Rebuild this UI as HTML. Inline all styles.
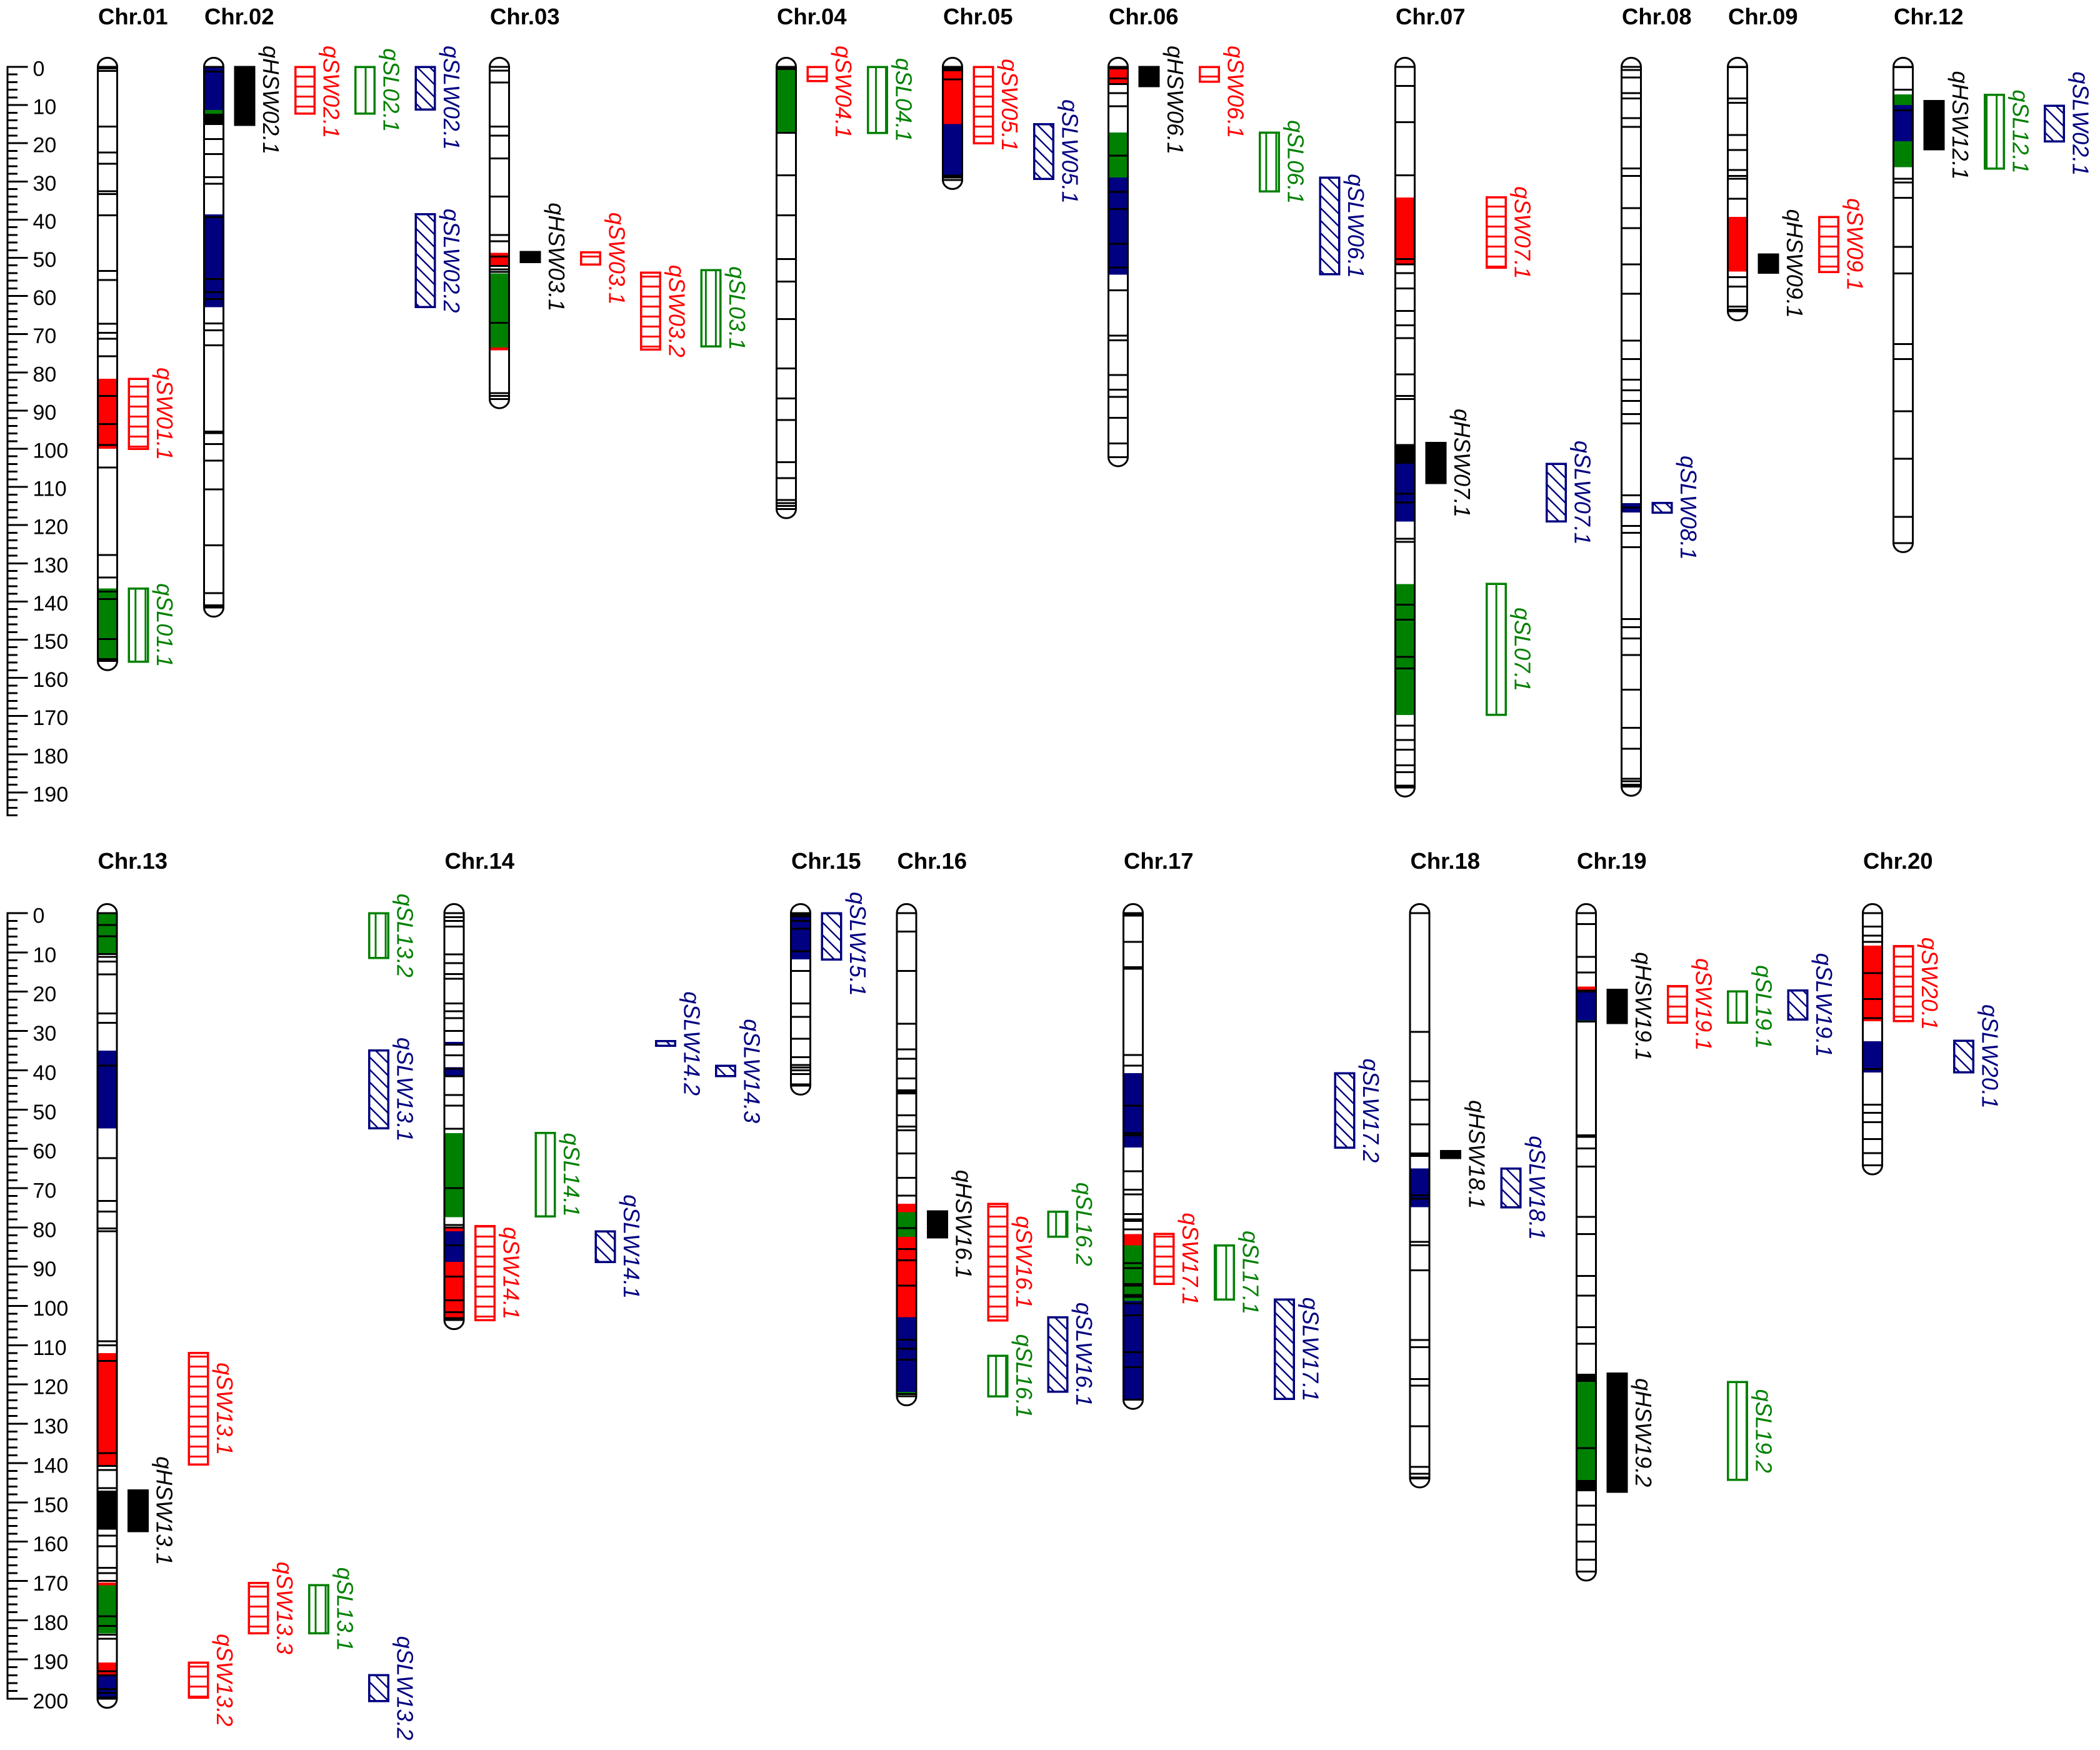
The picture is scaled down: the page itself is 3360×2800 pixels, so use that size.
<!DOCTYPE html>
<html lang="en">
<head>
<meta charset="utf-8">
<title>QTL linkage map</title>
<style>
  html, body { margin: 0; padding: 0; background: #fff; }
  svg { display: block; }
  text { font-family: "Liberation Sans", Arial, sans-serif; }
  .axis-label { font-size: 34px; fill: #000; }
  .chrom-title { font-size: 36.5px; font-weight: bold; fill: #000; }
  .qtl-label { font-size: 36px; font-style: italic; }
</style>
</head>
<body>
<svg id="chart" xmlns="http://www.w3.org/2000/svg" width="3360" height="2800" viewBox="0 0 3360 2800">
  <defs>
    <pattern id="pat-SW" patternUnits="userSpaceOnUse" x="0" y="9" width="40" height="16">
      <rect x="0" y="0" width="40" height="2.8" fill="#ff0000" shape-rendering="crispEdges"></rect>
    </pattern>
    <pattern id="pat-SL" patternUnits="userSpaceOnUse" x="7.2" y="0" width="16.01" height="40">
      <rect x="0" y="0" width="2.8" height="40" fill="#008000" shape-rendering="crispEdges"></rect>
    </pattern>
    <pattern id="pat-SLW" patternUnits="userSpaceOnUse" x="0" y="0" width="20" height="20">
      <path d="M-2,-2 L22,22 M-2,18 L2,22 M18,-2 L22,2" stroke="#000080" stroke-width="2.8" fill="none" shape-rendering="crispEdges"></path>
    </pattern>
  </defs>
  <rect x="0" y="0" width="3360" height="2800" fill="#ffffff"></rect>
</svg>
<script>
// ---- Data: chromosomes (cM) ----
const chromNames = ["Chr.01","Chr.02","Chr.03","Chr.04","Chr.05","Chr.06","Chr.07","Chr.08","Chr.09","Chr.12",
                    "Chr.13","Chr.14","Chr.15","Chr.16","Chr.17","Chr.18","Chr.19","Chr.20"];
const chromLengths = [155.6,141.6,87,115.8,29.6,102.2,188.7,188.5,64,124.7,
                      200,103.6,43.9,123,123.9,143.9,167.6,64.2];
const chromPanels = [0,0,0,0,0,0,0,0,0,0,1,1,1,1,1,1,1,1];

const topTickLabels = [0,10,20,30,40,50,60,70,80,90,100,110,120,130,140,150,160,170,180,190];
const bottomTickLabels = [0,10,20,30,40,50,60,70,80,90,100,110,120,130,140,150,160,170,180,190,200];

// ---- Data: marker positions per chromosome (cM) ----
const markersChr01 = [0,0.4,1.1,15.6,22.4,25.4,32.6,33.3,38.9,53.4,55.8,67.3,69.6,71.2,75.8,86.2,93.5,99,104.9,127.8,133.7,137.4,139.4,149.8,155.1,155.4,155.6];
const markersChr02 = [0,1.2,12.6,13.2,13.8,14.4,15,18.9,22.8,28.9,30.6,39.4,55.6,59,60.8,67.2,69,72.9,95.5,95.9,98.8,103.1,110.6,125.3,137.8,141,141.3,141.6];
const markersChr03 = [0,1,4.1,15.6,18,24,34,44,45.7,49.7,52.1,53,53.7,67,85.4,86.2,87];
const markersChr04 = [0,0.3,0.6,17.3,28.4,38.9,50.3,56.2,66,79,86.8,92.5,103.5,107.7,113.4,114.2,115,115.8];
const markersChr05 = [0,0.4,0.9,3.3,28.5,29,29.6];
const markersChr06 = [0,0.4,3,4.5,6.9,10.3,23.2,32.7,37.2,46.3,52.5,58.5,70.4,71.6,80.7,84.5,86.4,91.9,98.6,102.2];
const markersChr07 = [0,5,14.5,28.4,50.3,51.7,54,58,63.9,67.7,71,80.5,86.2,87,111.8,114.1,123.6,124.4,140.8,144.8,154.5,157.5,172.5,176.3,178.8,182.9,184.7,188.2,188.7];
const markersChr08 = [0,0.8,2.8,6.9,8.3,13.4,15.7,26.6,28.6,37,42.2,51.7,59.4,71.7,76.5,81.9,84.7,87.5,90.9,93.4,112.2,115.4,120.2,122,125.8,144.6,146.7,149.7,154,163.1,173.1,178.6,186.4,187.1,188,188.5];
const markersChr09 = [0,0.1,8.3,9.4,17.8,21.8,27,28.6,29.3,34.5,55.1,57.5,62.8,63.6,64];
const markersChr12 = [0,0.1,6,11.4,29.3,30.3,34.3,47.1,54.1,72.6,76.5,90.2,102.6,117.8,124.7];
const markersChr13 = [0,3,5.9,10.4,11.1,12.3,15.6,25.5,27.9,38.8,62.4,73.3,76,80.3,81,109,110,114,137.5,140.7,141.8,146.4,158.5,161.2,166.7,168,170,179,181.5,183.7,184.7,193,194,197.5,198.5,199.7,200];
const markersChr14 = [0,1,2,3.4,10.5,12.7,15.5,16.7,23,25,26.7,30,33.5,36.2,39.6,41.5,46.3,49,54.9,70,79.4,80,84.6,92.5,98.6,101.6,103.1,103.6];
const markersChr15 = [0,0.4,0.8,2,4,9.7,14.7,23,26.4,32,36.7,38.7,39.3,40,41,43.6,43.9];
const markersChr16 = [0,4.7,14.7,28.2,34.7,37.1,42.1,45.1,45.5,45.9,51.5,54.3,55.3,61.2,67.4,71.9,80.2,85.5,88.4,94.8,108.6,110.9,113.7,122.4,123];
const markersChr17 = [0,0.3,0.6,7.3,13.8,14.2,36.1,38.8,49,56,56.6,65.7,70.4,71.6,76.6,78,78.4,80.5,89.1,90.4,94.4,94.8,97.2,97.7,99.4,102.4,111.8,115.6,123.9];
const markersChr18 = [0,30.2,42.8,47.5,53.8,61.2,61.5,61.8,71.8,72.7,83.7,84.6,90.9,108.7,110.5,118.6,120.3,130.6,141,142.7,143.7,143.9];
const markersChr19 = [0,2.8,11.1,15.1,19.7,20,27.6,56.6,57,59.9,64.5,77.3,81.7,92.4,97.4,105.4,109.6,136.2,150.8,155.7,160,164.6,167.6];
const markersChr20 = [0,3.4,5.7,7.3,15.3,21.9,26.7,39.7,48.8,50.8,53.2,57.5,61.1,64.2];

// ---- Data: coloured segments per chromosome [trait, start cM, end cM] ----
const bandsChr01 = [["SW",81.7,100],["SL",136.6,155.6]];
const bandsChr02 = [["SLW",0,11.3],["SL",11.3,12.3],["HSW",12.3,15.2],["SLW",38.6,62.9]];
const bandsChr03 = [["SW",48.7,52.1],["SL",54.1,73.5],["SW",73.5,74.2]];
const bandsChr04 = [["SL",0.7,17.2]];
const bandsChr05 = [["SW",0.5,15],["SLW",15,28.3]];
const bandsChr06 = [["SW",0.1,4.5],["SL",17.2,29],["SLW",29,54.4]];
const bandsChr07 = [["SW",34.2,51.7],["HSW",98.8,103.9],["SLW",103.9,119.1],["SL",135.4,169.7]];
const bandsChr08 = [["SLW",114.2,116.7]];
const bandsChr09 = [["SW",39.3,53.6]];
const bandsChr12 = [["SL",7.2,10],["SLW",10,19.5],["SL",19.5,26.3]];
const bandsChr13 = [["SL",0,10.4],["SLW",35,54.8],["SW",112,140.6],["HSW",147,157],["SW",170.4,171.1],["SL",171.1,183.4],["SW",190.8,193.8],["SLW",193.8,200]];
const bandsChr14 = [["SLW",32.8,33.7],["SLW",39.2,41.6],["SL",56,77.4],["SW",79.9,81],["SLW",81,88.8],["SW",88.8,103.1]];
const bandsChr15 = [["SLW",0.7,11.8]];
const bandsChr16 = [["SW",74,76.1],["SL",76.1,82.4],["SW",82.4,102.9],["SLW",102.9,121.9],["SL",121.9,122.2]];
const bandsChr17 = [["SLW",40.7,59.7],["SW",81.7,84.6],["SL",84.6,98.7],["SLW",98.7,123.7]];
const bandsChr18 = [["SLW",65,74.9]];
const bandsChr19 = [["SW",18.7,19.7],["SLW",20,27.3],["SL",27.3,27.6],["HSW",117.3,119.3],["SL",119.3,144.3],["HSW",144.3,147.2]];
const bandsChr20 = [["SW",8.3,27.5],["SLW",32.6,40.6]];

// ---- Data: QTL intervals ----
const qtlNames = ["qSW01.1","qSL01.1",
  "qHSW02.1","qSW02.1","qSL02.1","qSLW02.1","qSLW02.2",
  "qHSW03.1","qSW03.1","qSW03.2","qSL03.1",
  "qSW04.1","qSL04.1",
  "qSW05.1","qSLW05.1",
  "qHSW06.1","qSW06.1","qSL06.1","qSLW06.1",
  "qHSW07.1","qSW07.1","qSL07.1","qSLW07.1",
  "qSLW08.1",
  "qHSW09.1","qSW09.1",
  "qHSW12.1","qSL12.1","qSLW02.1",
  "qHSW13.1","qSW13.1","qSW13.2","qSW13.3","qSL13.1","qSL13.2","qSLW13.1","qSLW13.2",
  "qSW14.1","qSL14.1","qSLW14.1","qSLW14.2","qSLW14.3",
  "qSLW15.1",
  "qHSW16.1","qSW16.1","qSL16.1","qSL16.2","qSLW16.1",
  "qSW17.1","qSL17.1","qSLW17.1","qSLW17.2",
  "qHSW18.1","qSLW18.1",
  "qHSW19.1","qHSW19.2","qSW19.1","qSL19.1","qSL19.2","qSLW19.1",
  "qSW20.1","qSLW20.1"];
const qtlTraits = ["SW","SL",
  "HSW","SW","SL","SLW","SLW",
  "HSW","SW","SW","SL",
  "SW","SL",
  "SW","SLW",
  "HSW","SW","SL","SLW",
  "HSW","SW","SL","SLW",
  "SLW",
  "HSW","SW",
  "HSW","SL","SLW",
  "HSW","SW","SW","SW","SL","SL","SLW","SLW",
  "SW","SL","SLW","SLW","SLW",
  "SLW",
  "HSW","SW","SL","SL","SLW",
  "SW","SL","SLW","SLW",
  "HSW","SLW",
  "HSW","HSW","SW","SL","SL","SLW",
  "SW","SLW"];
const qtlChrom = [0,0, 1,1,1,1,1, 2,2,2,2, 3,3, 4,4, 5,5,5,5, 6,6,6,6, 7, 8,8, 9,9,9,
  10,10,10,10,10,10,10,10, 11,11,11,11,11, 12, 13,13,13,13,13, 14,14,14,14, 15,15, 16,16,16,16,16,16, 17,17];
const qtlStart = [81.7,136.6,
  0,0,0,0,38.6,
  48.5,48.6,53.9,53.2,
  0,0,
  0,15,
  0,0,17.2,29,
  98.5,34.2,135.4,104,
  114.2,
  49.1,39.3,
  9,7.3,10.2,
  147,112,190.8,170.5,171.1,0,35,194,
  79.7,56,81,32.6,38.9,
  0,
  75.9,74,112.7,76,102.9,
  81.7,84.6,98.4,40.8,
  60.6,65,
  19.5,117.2,18.6,19.9,119.4,19.7,
  8.4,32.5];
const qtlEnd = [100,155.8,
  15.2,12.2,12.2,11.2,62.9,
  51.1,51.8,74,73.2,
  3.7,17.3,
  20,29.3,
  5,3.9,32.6,54.3,
  109,52.6,169.7,119,
  116.7,
  53.9,53.7,
  21.6,26.6,19.5,
  157.3,140.4,199.7,183.3,183.3,11.4,54.8,200.6,
  103.6,77.2,88.8,33.8,41.5,
  11.8,
  82.5,103.7,123,82.4,121.8,
  94.4,98.4,123.7,59.7,
  62.3,74.9,
  28,147.3,27.9,27.9,144.3,27.1,
  27.5,40.5];

// ---- Layout (not data) ----
const layoutChromLeft = [155,325,782,1241,1507,1772,2231,2593,2763,3028,154.5,709.5,1264,1433.5,1796,2254.5,2521,2979];
const layoutQtlColumn = [0,0, 0,1,2,3,3, 0,1,2,3, 0,1, 0,1, 0,1,2,3, 0,1,1,2, 0, 0,1, 0,1,2,
  0,1,1,2,3,4,4,4, 0,1,2,3,4, 0, 0,1,1,2,2, 0,1,2,3, 0,1, 0,0,1,2,2,3, 0,1];
const CHROM_W = 34;
const QTL_W = 34;
const COLUMN_OFFSET = 49.5;
const COLUMN_STEP = 96.3;
const BOX_STROKE = 3.5;

const allMarkers = [markersChr01,markersChr02,markersChr03,markersChr04,markersChr05,markersChr06,markersChr07,markersChr08,markersChr09,markersChr12,markersChr13,markersChr14,markersChr15,markersChr16,markersChr17,markersChr18,markersChr19,markersChr20];
const allBands = [bandsChr01,bandsChr02,bandsChr03,bandsChr04,bandsChr05,bandsChr06,bandsChr07,bandsChr08,bandsChr09,bandsChr12,bandsChr13,bandsChr14,bandsChr15,bandsChr16,bandsChr17,bandsChr18,bandsChr19,bandsChr20];

// ---- Axis functions ----
function yTop(v) { return 107 + 6.11 * v; }
function yBottom(v) { return 1461 + 6.285 * v; }
function yAxis(panel, v) { return panel === 0 ? yTop(v) : yBottom(v); }

function traitColor(t) {
  if (t === "SW") return "#ff0000";
  if (t === "SL") return "#008000";
  if (t === "SLW") return "#000080";
  return "#000000";
}

const NS = "http://www.w3.org/2000/svg";
const svg = document.getElementById("chart");
function make(tag, parent, props) {
  const el = document.createElementNS(NS, tag);
  for (const k in props) el.setAttribute(k, props[k]);
  parent.appendChild(el);
  return el;
}

// ---- Draw axes ----
function drawAxis(panel, maxVal, labels) {
  const g = make("g", svg, {});
  
  
  const line = make("line", g, {x1: 12, x2: 12, y1: yAxis(panel, 0) - 1.5, y2: yAxis(panel, maxVal) + 1.5, stroke: "#000", "stroke-width": 3, "shape-rendering": "crispEdges"});
  
  
  for (let v = 0; v <= maxVal; v += 2) {
    const isMajor = labels.indexOf(v) >= 0;
    const tick = make("line", g, {x1: 12, x2: isMajor ? 44.5 : 28, y1: yAxis(panel, v), y2: yAxis(panel, v), stroke: "#000", "stroke-width": 3, "shape-rendering": "crispEdges"});
    
    
  }
  labels.forEach(function (lab) {
    const t = make("text", g, {x: 52.5, y: yAxis(panel, lab) + (panel === 0 ? 14.5 : 15.5), "class": "axis-label"});
    t.textContent = String(lab);
    
    
  });
}
drawAxis(0, 196, topTickLabels);
drawAxis(1, 200, bottomTickLabels);

// ---- Draw chromosomes ----
chromNames.forEach(function (name, i) {
  const panel = chromPanels[i];
  const left = layoutChromLeft[i];
  const g = make("g", svg, {});
  
  

  const title = make("text", g, {x: left + 2, y: panel === 0 ? 38.8 : 1390, "class": "chrom-title"});
  title.textContent = name;
  
  

  const y0 = yAxis(panel, 0);
  const yL = yAxis(panel, chromLengths[i]);
  const l = left + 1.5;
  const r = left + CHROM_W - 1.5;
  const rx = (r - l) / 2;
  const d = "M" + l + "," + y0 + " A" + rx + ",14.5 0 0 1 " + r + "," + y0 + " L" + r + "," + yL + " A" + rx + ",14.5 0 0 1 " + l + "," + yL + " Z";

  const body = make("path", g, {d: d, fill: "#ffffff", stroke: "none"});
  
  

  allBands[i].forEach(function (b) {
    const by0 = yAxis(panel, b[1]);
    const by1 = yAxis(panel, b[2]);
    const band = make("rect", g, {x: l, width: r - l, y: by0, height: by1 - by0, fill: traitColor(b[0]), "shape-rendering": "crispEdges"});
    
    
  });

  allMarkers[i].forEach(function (m) {
    const my = yAxis(panel, m);
    const mk = make("line", g, {x1: l, x2: r, y1: my, y2: my, stroke: "#000", "stroke-width": 3, "shape-rendering": "crispEdges"});
    
    
  });

  const outline = make("path", g, {d: d, fill: "none", stroke: "#000", "stroke-width": 3});
  
  
});

// ---- Draw QTL intervals ----
qtlNames.forEach(function (name, i) {
  const c = qtlChrom[i];
  const panel = chromPanels[c];
  const trait = qtlTraits[i];
  const color = traitColor(trait);
  const left = layoutChromLeft[c] + COLUMN_OFFSET + COLUMN_STEP * layoutQtlColumn[i];
  const y0 = yAxis(panel, qtlStart[i]);
  const y1 = yAxis(panel, qtlEnd[i]);
  const g = make("g", svg, {});
  
  

  const inset = BOX_STROKE / 2;
  if (trait !== "HSW") {
    const fillRect = make("rect", g, {x: left + inset, y: y0, width: QTL_W - BOX_STROKE, height: y1 - y0, fill: "url(#pat-" + trait + ")", "shape-rendering": "crispEdges"});
    
    
  }
  const box = make("rect", g, {x: left + inset, y: y0, width: QTL_W - BOX_STROKE, height: y1 - y0, fill: trait === "HSW" ? "#000000" : "none", stroke: color, "stroke-width": BOX_STROKE, "shape-rendering": "crispEdges"});
  
  

  const bx = left + QTL_W + 12.5;
  const label = make("text", g, {"text-anchor": "middle", fill: color, "class": "qtl-label"});
  label.textContent = name;
  
  
  // Labels are centred on their interval but never rise above the panel's label ceiling.
  const ceiling = yAxis(panel, 0) - 34;
  const cy = Math.max((y0 + y1) / 2, ceiling + label.getComputedTextLength() / 2);
  label.setAttribute("transform", "translate(" + bx + "," + cy + ") rotate(90)");
});
</script>
</body>
</html>
